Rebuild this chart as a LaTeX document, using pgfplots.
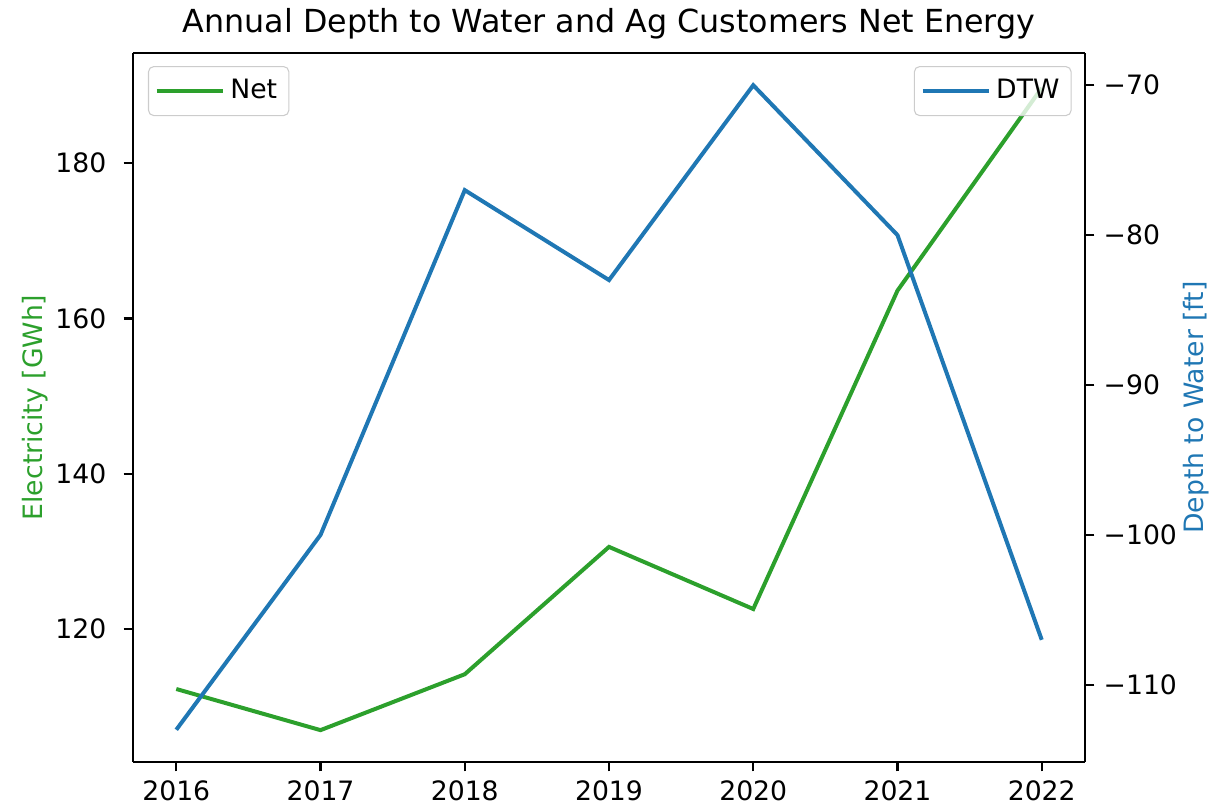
\documentclass[border=0pt]{standalone}
\usepackage{fontspec}
\setmainfont{DejaVu Sans}
\usepackage{pgfplots}
\pgfplotsset{compat=1.18}

\definecolor{mplgreen}{HTML}{2CA02C}
\definecolor{mplblue}{HTML}{1F77B4}

\pgfplotsset{
  twin/.style={
    scale only axis, width=357pt, height=265.875pt,
    at={(0,0)}, anchor=south west,
    xmin=2015.7, xmax=2022.3,
    tick align=outside, tick style={black, line width=0.8pt},
    major tick length=3.5pt,
    axis line style={line width=0.8pt},
    ticklabel style={font=\fontsize{10}{12}\selectfont},
    label style={font=\fontsize{10}{12}\selectfont},
    /pgf/number format/assume math mode=true,
    /pgf/number format/1000 sep={},
    legend cell align=left,
    legend style={font=\fontsize{10}{12}\selectfont, draw=black!20, rounded corners=2pt,
      fill=white, fill opacity=0.8, text opacity=1, inner xsep=2.4pt, inner ysep=2.8pt},
    legend image code/.code={\draw[#1] (0pt,0pt) -- (20.6pt,0pt); \path (0pt,0pt) -- (24.8pt,0pt);},
  }
}

\begin{document}
\begin{tikzpicture}
\useasboundingbox (-49.875pt,-16.875pt) rectangle (409.875pt,285.75pt);
\begin{axis}[twin,
  axis y line*=left, axis x line*=bottom,
  ymin=102.9, ymax=194.2,
  xtick={2016,2017,2018,2019,2020,2021,2022},
  ytick={120,140,160,180},
  yticklabel style={xshift=-3pt},
  ylabel={Electricity [GWh]},
  ylabel style={text=mplgreen, at={([xshift=-36.75pt]rel axis cs:0,0.5)}, anchor=center},
  title={Annual Depth to Water and Ag Customers Net Energy},
  title style={font=\fontsize{11.9}{14}\selectfont, at={(0.5,1)}, anchor=base, yshift=1.85pt},
  legend style={at={(0.0157,0.9816)}, anchor=north west},
  clip=false]
\addplot[mplgreen, line width=1.5pt] coordinates {
  (2016,112.3) (2017,107.0) (2018,114.2) (2019,130.6) (2020,122.6) (2021,163.6) (2022,189.7)};
\addlegendentry{Net}
\draw[line width=0.8pt] (rel axis cs:0,1) -- (rel axis cs:1,1);
\end{axis}
\begin{axis}[twin,
  axis y line*=right, axis x line=none,
  ymin=-115.15, ymax=-67.85,
  ytick={-110,-100,-90,-80,-70},
  yticklabels={−110,−100,−90,−80,−70},
  ylabel={Depth to Water [ft]},
  ylabel style={text=mplblue, at={([xshift=41.6pt]rel axis cs:1,0.5)}, anchor=center},
  legend style={at={(0.986,0.9816)}, anchor=north east}]
\addplot[mplblue, line width=1.5pt] coordinates {
  (2016,-113) (2017,-100) (2018,-77) (2019,-83) (2020,-70) (2021,-80) (2022,-107)};
\addlegendentry{DTW}
\end{axis}
\end{tikzpicture}
\end{document}
